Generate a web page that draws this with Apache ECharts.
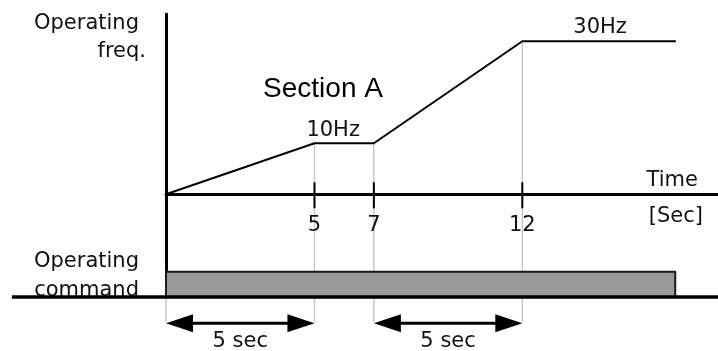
<!DOCTYPE html>
<html>
<head>
<meta charset="utf-8">
<title>Operating frequency / command</title>
<script src="https://cdn.jsdelivr.net/npm/echarts@6/dist/echarts.min.js"></script>
</head>
<body style="margin:0;background:#fff">
<div id="main" style="width:718px;height:351px;"></div>
<script>
// frequency profile: time [sec] -> freq [Hz]
var profileTime = [0, 5, 7, 12, 17.17];
var profileFreq = [0, 10, 10, 30, 30];
var tickTimes = [5, 7, 12];
var tickLabels = ['5', '7', '12'];
var guideTimes = [0, 5, 7, 12];
var stepLabels = ['10Hz', '30Hz'];
var commandStart = 0;
var commandEnd = 17.15;
var arrowSpans = [[0, 5], [7, 12]];
var arrowLabels = ['5 sec', '5 sec'];

// layout in axis units (below zero = command area)
var X_MAX = 18.59;
var Y_MIN = -20.14, Y_MAX = 35.35;
var CMD_TOP = -15.2;
var ARROW_Y = -25.3;
var BASE_FROM = -5.19;

var FONT = 'DejaVu Sans';
var FS = 21;
var TXT = '#111';

function freqAt(t) {
    return profileFreq[profileTime.indexOf(t)];
}

function label(text, x, y, align) {
    return {type: 'text', x: x, y: y, style: {text: text, font: FS + 'px ' + FONT, fill: TXT,
        align: align, verticalAlign: 'middle', textAlign: align, textVerticalAlign: 'middle'}};
}

var chart = echarts.init(document.getElementById('main'));

var option = {
    animation: false,
    grid: {left: 166, right: 0, top: 14, bottom: 54},
    xAxis: {
        type: 'value', min: 0, max: X_MAX,
        axisLine: {onZero: true, lineStyle: {color: '#000', width: 3}},
        axisTick: {show: false},
        splitLine: {show: false},
        axisLabel: {show: false}
    },
    yAxis: {
        type: 'value', min: Y_MIN, max: Y_MAX,
        axisLine: {show: true, onZero: false, lineStyle: {color: '#000', width: 3}},
        axisTick: {show: false},
        axisLabel: {show: false},
        splitLine: {show: false}
    },
    graphic: [
        label('Operating', 139, 24, 'right'),
        label('freq.', 146, 52, 'right'),
        {type: 'text', x: 323, y: 89, style: {text: 'Section A', font: '28px Liberation Sans', fill: '#000',
            align: 'center', verticalAlign: 'middle', textAlign: 'center', textVerticalAlign: 'middle'}},
        label('Time', 698, 181, 'right'),
        label('[Sec]', 703, 217, 'right'),
        label('Operating', 139, 262, 'right'),
        label('command', 139, 291, 'right')
    ],
    series: [
        {   // grey guide lines
            type: 'custom', z: 2,
            data: guideTimes.map(function (t) { return [t, t === 0 ? Y_MIN : freqAt(t)]; }),
            encode: {x: 0, y: 1},
            renderItem: function (params, api) {
                var p1 = api.coord([api.value(0), api.value(1)]);
                var p2 = api.coord([api.value(0), ARROW_Y]);
                return {type: 'line', shape: {x1: p1[0], y1: p1[1], x2: p2[0], y2: p2[1] - 1},
                    style: {stroke: '#c8c8c8', lineWidth: 1.5}};
            }
        },
        {   // operating command bar + baseline
            type: 'custom', z: 3,
            data: [[commandStart, commandEnd]],
            encode: {x: [0, 1]},
            renderItem: function (params, api) {
                var a = api.coord([api.value(0), CMD_TOP]);
                var b = api.coord([api.value(1), Y_MIN]);
                var l = api.coord([BASE_FROM, Y_MIN]);
                var r = api.coord([X_MAX, Y_MIN]);
                return {type: 'group', children: [
                    {type: 'rect', shape: {x: a[0], y: a[1], width: b[0] - a[0], height: b[1] - a[1]},
                        style: {fill: '#9a9a9a', stroke: '#1a1a1a', lineWidth: 2}},
                    {type: 'line', shape: {x1: l[0], y1: l[1], x2: r[0], y2: r[1]},
                        style: {stroke: '#000', lineWidth: 3.5}}
                ]};
            }
        },
        {   // tick marks across the time axis, with their labels
            type: 'custom', z: 4,
            data: tickTimes.map(function (t) { return [t, 0]; }),
            encode: {x: 0, y: 1},
            renderItem: function (params, api) {
                var p = api.coord([api.value(0), 0]);
                return {type: 'group', children: [
                    {type: 'line', shape: {x1: p[0], y1: p[1] - 12, x2: p[0], y2: p[1] + 14},
                        style: {stroke: '#000', lineWidth: 2}},
                    {type: 'text', style: {text: tickLabels[params.dataIndex], x: p[0], y: p[1] + 31,
                        align: 'center', verticalAlign: 'middle', font: FS + 'px ' + FONT, fill: TXT}}
                ]};
            }
        },
        {   // frequency profile
            type: 'line', z: 5,
            data: profileTime.map(function (t, i) { return [t, profileFreq[i]]; }),
            showSymbol: false,
            lineStyle: {color: '#000', width: 2},
            markPoint: {
                symbol: 'rect', symbolSize: 1,
                itemStyle: {color: 'rgba(0,0,0,0)'},
                label: {show: true, position: 'inside', formatter: '{b}', color: TXT, fontFamily: FONT, fontSize: FS},
                data: [
                    {name: stepLabels[0], coord: [(profileTime[1] + profileTime[2]) / 2, profileFreq[1]], label: {offset: [-11, -13]}},
                    {name: stepLabels[1], coord: [(profileTime[3] + profileTime[4]) / 2, profileFreq[3]], label: {offset: [1, -14]}}
                ]
            }
        },
        {   // 5 sec arrows
            type: 'custom', z: 5,
            data: arrowSpans.map(function (s) { return [s[0], s[1], ARROW_Y]; }),
            encode: {x: [0, 1], y: 2},
            renderItem: function (params, api) {
                var a = api.coord([api.value(0), ARROW_Y]);
                var b = api.coord([api.value(1), ARROW_Y]);
                var L = 27, H = 9;
                return {type: 'group', children: [
                    {type: 'line', shape: {x1: a[0] + L - 2, y1: a[1], x2: b[0] - L + 2, y2: b[1]},
                        style: {stroke: '#000', lineWidth: 3}},
                    {type: 'polygon', shape: {points: [[a[0], a[1]], [a[0] + L, a[1] - H], [a[0] + L, a[1] + H]]},
                        style: {fill: '#000'}},
                    {type: 'polygon', shape: {points: [[b[0], b[1]], [b[0] - L, b[1] - H], [b[0] - L, b[1] + H]]},
                        style: {fill: '#000'}},
                    {type: 'text', style: {text: arrowLabels[params.dataIndex], x: (a[0] + b[0]) / 2, y: a[1] + 18,
                        align: 'center', verticalAlign: 'middle', font: FS + 'px ' + FONT, fill: TXT}}
                ]};
            }
        }
    ]
};

chart.setOption(option);
</script>
</body>
</html>
